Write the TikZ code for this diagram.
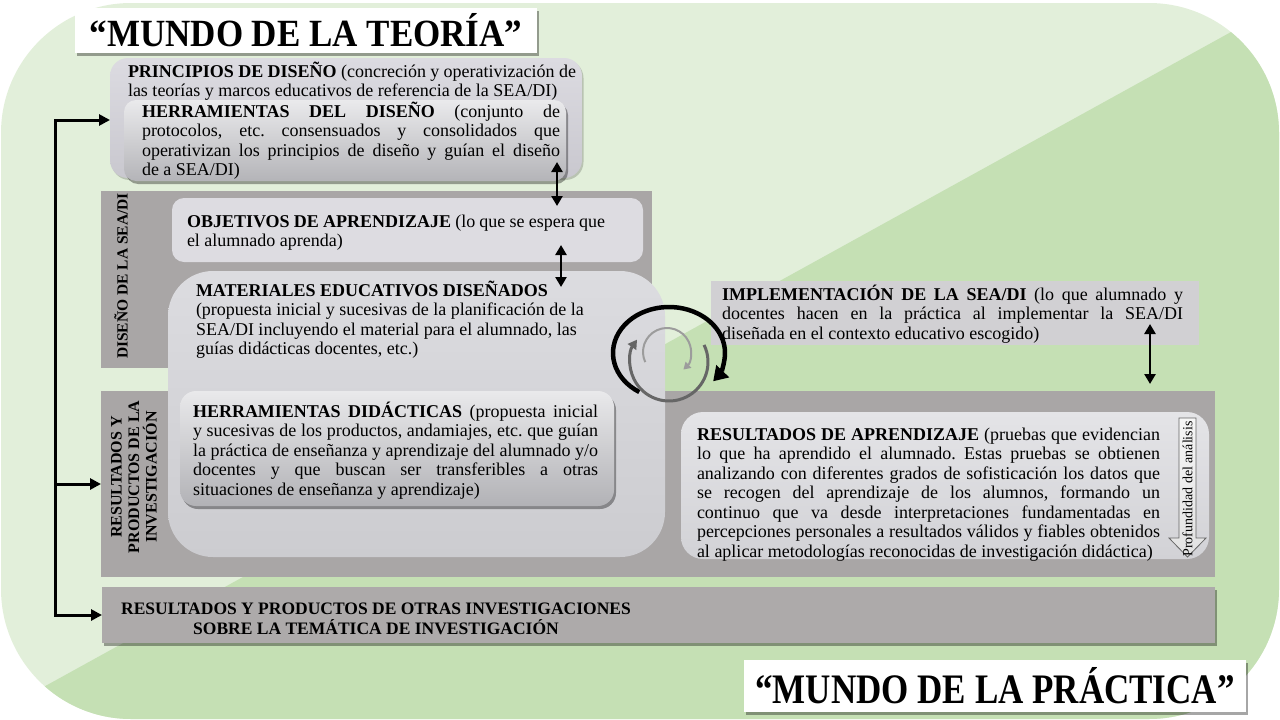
\documentclass[tikz,border=0pt]{standalone}
\usepackage{fontspec}
\setmainfont{Liberation Serif}
\usepackage{graphicx}
\usetikzlibrary{arrows.meta,shadows}
\definecolor{bglight}{HTML}{E2EFDA}
\definecolor{bgdark}{HTML}{C5E0B4}
\definecolor{bandgrey}{HTML}{A9A6A6}
\definecolor{bandlow}{HTML}{ADAAAA}
\definecolor{implgrey}{HTML}{D1D0D3}
\definecolor{objgrey}{HTML}{DDDCE1}
\definecolor{darkarc}{HTML}{666666}
\definecolor{lightarc}{HTML}{9C9C9C}
\definecolor{prtop}{HTML}{DCDBE1}
\definecolor{prbot}{HTML}{C9C8CF}
\definecolor{hdtop}{HTML}{EAEAEC}
\definecolor{hdbot}{HTML}{B4B4B8}
\definecolor{mattop}{HTML}{DCDCE0}
\definecolor{matbot}{HTML}{CCCCD0}
\definecolor{hitop}{HTML}{E9E9EB}
\definecolor{himid}{HTML}{D6D6D9}
\definecolor{hibot}{HTML}{B2B2B6}
\definecolor{ratop}{HTML}{E4E4E7}
\definecolor{rabot}{HTML}{D2D2D6}
\definecolor{pfdraw}{HTML}{666666}
\definecolor{pftop}{HTML}{F6F6F6}
\definecolor{pfbot}{HTML}{E2E2E2}
\newcommand\rs{\spaceskip=0pt\xspaceskip=0pt\frenchspacing}
\newcommand\jl[2]{{\rs\makebox[#1pt][s]{#2}}}
\tikzset{
  box/.style={inner sep=0pt, outer sep=0pt, anchor=north west},
  txt/.style={inner sep=0pt, outer sep=0pt, anchor=base west, align=left, font=\fontsize{18}{19.5}\selectfont},
  vtxt/.style={inner sep=0pt, rotate=90, align=center, font=\fontsize{15.5}{17}\selectfont\bfseries},
  shad/.style={drop shadow={shadow xshift=2pt, shadow yshift=-3pt, opacity=0.35, fill=black}},
  lshad/.style={drop shadow={shadow xshift=1.5pt, shadow yshift=-2pt, opacity=0.18, fill=black}},
  dbl/.style={line width=2.5pt, {Triangle[length=10pt,width=11pt]}-{Triangle[length=10pt,width=11pt]}},
  fb/.style={line width=3pt, line join=miter},
  fbtip/.style={-{Triangle[length=11pt,width=11pt]}},
  titlefont/.style={font=\fontsize{35}{40}\selectfont\bfseries}
}
\begin{document}
\begin{tikzpicture}[x=1pt,y=-1pt]
\useasboundingbox (0,0) rectangle (1280,720);
% background
\fill[bglight, rounded corners=130pt] (1,3) rectangle (1279,719);
\begin{scope}
\clip[rounded corners=130pt] (1,3) rectangle (1279,719);
\fill[bgdark] (0,711) -- (1280,5) -- (1280,720) -- (0,720) -- cycle;
\end{scope}

% titles
\node[box, minimum width=462pt, minimum height=45pt, fill=white, shad, titlefont] (teoria) at (75,8) {\scalebox{1}[1.1]{“MUNDO DE LA TEORÍA”}};
\node[box, minimum width=502pt, minimum height=52pt, fill=white, shad, titlefont] (practica) at (744,660) {\scalebox{1}[1.2]{“MUNDO DE LA PRÁCTICA”}};

% principios + herramientas del diseño
\node[box, minimum width=472pt, minimum height=120pt, rounded corners=18pt, top color=prtop, bottom color=prbot, lshad] (principios) at (110,58) {};
\node[txt, text width=458pt] (principiosT) at (128,77) {\rs\jl{448}{\textbf{PRINCIPIOS DE DISEÑO} (concreción y operativización de}\\las teorías y marcos educativos de referencia de la SEA/DI)};
\node[box, minimum width=442pt, minimum height=81pt, rounded corners=12pt, top color=hdtop, bottom color=hdbot, shad] (herrdis) at (124,100) {};
\node[txt, text width=428pt] (herrdisT) at (142,117) {\rs\jl{418}{\textbf{HERRAMIENTAS DEL DISEÑO} (conjunto de}\\\jl{418}{protocolos, etc. consensuados y consolidados que}\\\jl{418}{operativizan los principios de diseño y guían el diseño}\\de a SEA/DI)};

% bands
\node[box, minimum width=551pt, minimum height=177pt, fill=bandgrey] (band1) at (101,191) {};
\node[box, minimum width=1114pt, minimum height=186pt, fill=bandgrey] (band2) at (101,391) {};
\node[box, minimum width=1113pt, minimum height=56pt, fill=bandlow, shad] (band3) at (102,587) {};
\node[vtxt] (band1T) at (121,276) {DISEÑO DE LA SEA/DI};
\node[vtxt, font=\fontsize{16}{17.5}\selectfont\bfseries] (band2T) at (134,477) {\rs RESULTADOS Y\\PRODUCTOS DE LA\\INVESTIGACIÓN};
\node[inner sep=0pt, align=center, font=\fontsize{17.5}{20}\selectfont\bfseries] (band3T) at (376,619) {\rs RESULTADOS Y PRODUCTOS DE OTRAS INVESTIGACIONES\\SOBRE LA TEMÁTICA DE INVESTIGACIÓN};

% objetivos
\node[box, minimum width=471pt, minimum height=64pt, rounded corners=12pt, fill=objgrey] (objetivos) at (172,198) {};
\node[txt, text width=428pt] (objetivosT) at (187,227) {\rs\jl{418}{\textbf{OBJETIVOS DE APRENDIZAJE} (lo que se espera que}\\el alumnado aprenda)};

% materiales
\node[box, minimum width=497pt, minimum height=286pt, rounded corners=45pt, top color=mattop, bottom color=matbot] (materiales) at (168,271) {};
\node[txt, text width=420pt] (materialesT) at (196,296) {\rs\textbf{MATERIALES EDUCATIVOS DISEÑADOS}\\(propuesta inicial y sucesivas de la planificación de la\\SEA/DI incluyendo el material para el alumnado, las\\guías didácticas docentes, etc.)};

% herramientas didácticas
\node[box, minimum width=434pt, minimum height=115pt, rounded corners=16pt, top color=hitop, middle color=himid, bottom color=hibot, shad] (herrdid) at (180,391) {};
\node[txt, text width=415pt] (herrdidT) at (193,417) {\rs\jl{405}{\textbf{HERRAMIENTAS DIDÁCTICAS} (propuesta inicial}\\\jl{405}{y sucesivas de los productos, andamiajes, etc. que guían}\\\jl{405}{la práctica de enseñanza y aprendizaje del alumnado y/o}\\\jl{405}{docentes y que buscan ser transferibles a otras}\\situaciones de enseñanza y aprendizaje)};

% implementación
\node[box, minimum width=488pt, minimum height=64pt, fill=implgrey] (impl) at (711,281) {};
\node[txt, text width=471pt] (implT) at (722,300) {\rs\jl{461}{\textbf{IMPLEMENTACIÓN DE LA SEA/DI} (lo que alumnado y}\\\jl{461}{docentes hacen en la práctica al implementar la SEA/DI}\\diseñada en el contexto educativo escogido)};

% resultados de aprendizaje
\node[box, minimum width=528pt, minimum height=147pt, rounded corners=22pt, top color=ratop, bottom color=rabot] (resapr) at (681,412) {};
\node[txt, text width=473pt] (resaprT) at (697,440) {\rs\jl{463}{\textbf{RESULTADOS DE APRENDIZAJE} (pruebas que evidencian}\\\jl{463}{lo que ha aprendido el alumnado. Estas pruebas se obtienen}\\\jl{463}{analizando con diferentes grados de sofisticación los datos que}\\\jl{463}{se recogen del aprendizaje de los alumnos, formando un}\\\jl{463}{continuo que va desde interpretaciones fundamentadas en}\\\jl{463}{percepciones personales a resultados válidos y fiables obtenidos}\\al aplicar metodologías reconocidas de investigación didáctica)};

% profundidad arrow
\draw[draw=pfdraw, line width=0.8pt, top color=pftop, bottom color=pfbot] (1179,418) -- (1196,418) -- (1196,538) -- (1206,538) -- (1187.5,557) -- (1169,538) -- (1179,538) -- cycle;
\node[inner sep=0pt, rotate=90, font=\fontsize{14}{16}\selectfont] (profT) at (1187.5,489) {Profundidad del análisis};

% feedback connector on the left
\coordinate (sT) at (55,120);
\coordinate (sB) at (55,615);
\draw[fb, {Triangle[length=11pt,width=11pt]}-{Triangle[length=11pt,width=11pt]}] (principios.west |- sT) -- (sT) -- (sB) -- (band3.west);
\draw[fb, fbtip] (sT |- band2.west) -- (band2.west);

% double arrows
\coordinate (d1a) at (557,162);
\coordinate (d1b) at (557,206);
\coordinate (d2a) at (561,245);
\coordinate (d2b) at (561,287);
\coordinate (d3a) at (1150,324);
\coordinate (d3b) at (1150,384);
\draw[dbl] (d1a) -- (d1b);
\draw[dbl] (d2a) -- (d2b);
\draw[dbl] (d3a) -- (d3b);

% cycle arrows
\coordinate (cyc) at (669,353);
\coordinate (cyc2) at (669,362);
\coordinate (cyc3) at (667,352);
\draw[line width=4.5pt, -{Triangle[length=14pt,width=17pt]}] (cyc) ++(-238:56 and 46) arc[start angle=-238, end angle=38, x radius=56, y radius=46];
\draw[darkarc, line width=3pt, -{Triangle[length=9pt,width=10pt]}] (cyc2) ++(-26:39) arc[start angle=-26, end angle=215, radius=39];
\draw[lightarc, line width=2pt, -{Triangle[length=7pt,width=8pt]}] (cyc3) ++(-205:24) arc[start angle=-205, end angle=47, radius=24];
\end{tikzpicture}
\end{document}
